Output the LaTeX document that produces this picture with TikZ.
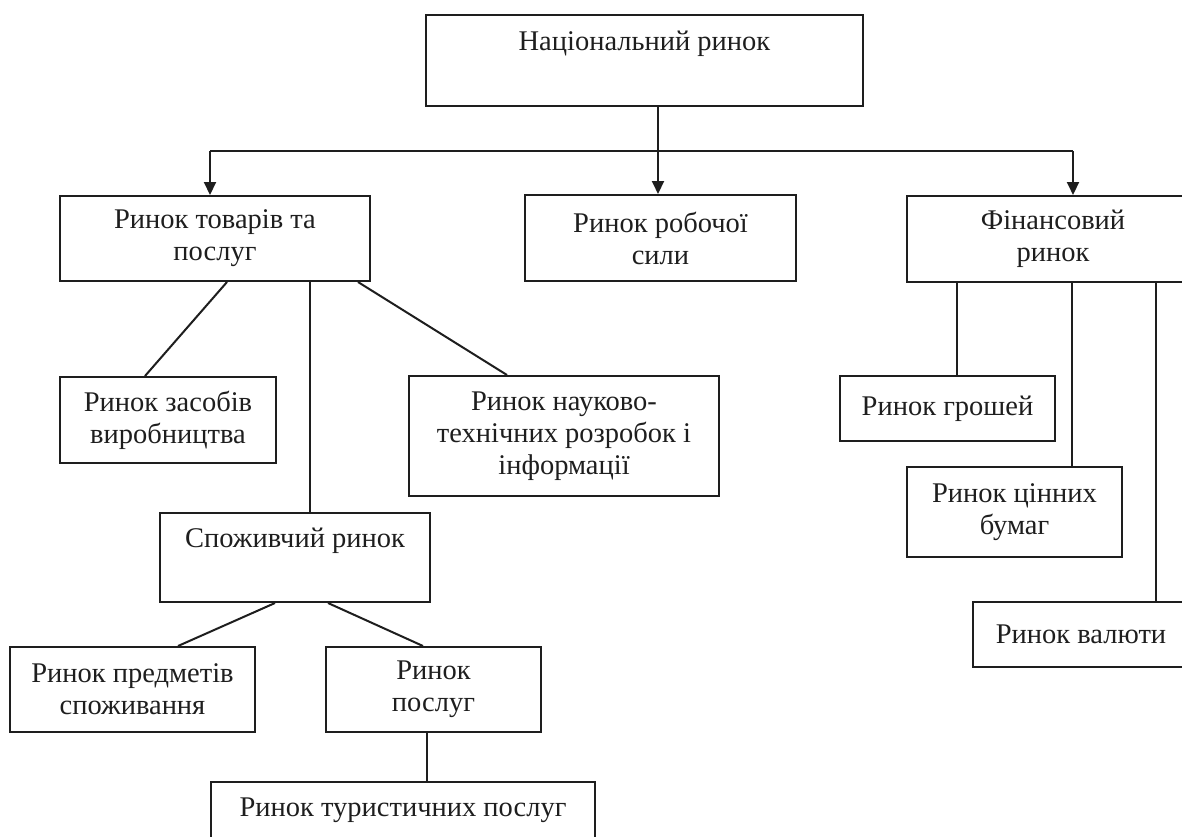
\documentclass[tikz,border=0pt]{standalone}
\usepackage{fontspec}
\setmainfont{Liberation Serif}
\usetikzlibrary{arrows.meta}
\definecolor{ink}{RGB}{30,30,30}
\tikzset{
  mbox/.style={draw=ink, line width=2pt, align=center, inner sep=0pt, text=ink,
    font=\fontsize{28.5}{32}\selectfont},
  link/.style={draw=ink, line width=2pt},
  feed/.style={link, -{Triangle[width=12pt,length=13pt]}}
}
\begin{document}
\begin{tikzpicture}[x=1pt, y=-1pt]
    \useasboundingbox (0,0) rectangle (1182,836);
    \clip (0,0) rectangle (1182,836);

    \node[mbox, minimum width=437, minimum height=91] (nat) at (644.5,60.5) {\strut Національний ринок\\\strut};

    \node[mbox, minimum width=310, minimum height=85] (goods) at (215,238.5) {Ринок товарів та\\послуг};
    \node[mbox, minimum width=271, minimum height=86] (labour) at (660.5,238) {Ринок робочої\\сили};
    \node[mbox, minimum width=292, minimum height=86] (fin) at (1053,239) {Фінансовий\\ринок};

    \node[mbox, minimum width=216, minimum height=86] (means) at (168,420) {Ринок засобів\\виробництва};
    \node[mbox, minimum width=310, minimum height=120] (sci) at (564,436) {Ринок науково-\\технічних розробок і\\інформації};
    \node[mbox, minimum width=270, minimum height=89] (cons) at (295,557.5) {\strut Споживчий ринок\\\strut};
    \node[mbox, minimum width=245, minimum height=85] (items) at (132.5,689.5) {Ринок предметів\\споживання};
    \node[mbox, minimum width=215, minimum height=85] (serv) at (433.5,689.5) {Ринок\\послуг};
    \node[mbox, minimum width=384, minimum height=88] (tour) at (403,826) {\strut Ринок туристичних послуг\\\strut};

    \node[mbox, minimum width=215, minimum height=65] (money) at (947.5,408.5) {Ринок грошей};
    \node[mbox, minimum width=215, minimum height=90] (secur) at (1014.5,512) {Ринок цінних\\бумаг};
    \node[mbox, minimum width=216, minimum height=65] (curr) at (1081,634.5) {Ринок валюти};

    % bus under the top box
    \coordinate (bus) at (658,151);
    \coordinate (busL) at (210,151);
    \coordinate (busR) at (1073,151);
    \draw[link] (nat.south -| bus) -- (bus);
    \draw[link] (busL) -- (busR);
    \draw[feed] (busL) -- (busL |- goods.north);
    \draw[feed] (bus) -- (bus |- labour.north);
    \draw[feed] (busR) -- (busR |- fin.north);

    \draw[link] ([xshift=12pt]goods.south) -- ([xshift=-23pt]means.north);
    \draw[link] ([xshift=95pt]goods.south) -- ([xshift=15pt]cons.north);
    \draw[link] ([xshift=143pt]goods.south) -- ([xshift=-57pt]sci.north);
    \draw[link] ([xshift=-20pt]cons.south) -- ([xshift=45.5pt]items.north);
    \draw[link] ([xshift=33pt]cons.south) -- ([xshift=-10.5pt]serv.north);
    \draw[link] ([xshift=-6.5pt]serv.south) -- ([xshift=-6.5pt]serv.south |- tour.north);

    \draw[link] ([xshift=-96pt]fin.south) -- ([xshift=-96pt]fin.south |- money.north);
    \draw[link] ([xshift=19pt]fin.south) -- ([xshift=19pt]fin.south |- secur.north);
    \draw[link] ([xshift=103pt]fin.south) -- ([xshift=103pt]fin.south |- curr.north);

\end{tikzpicture}
\end{document}
